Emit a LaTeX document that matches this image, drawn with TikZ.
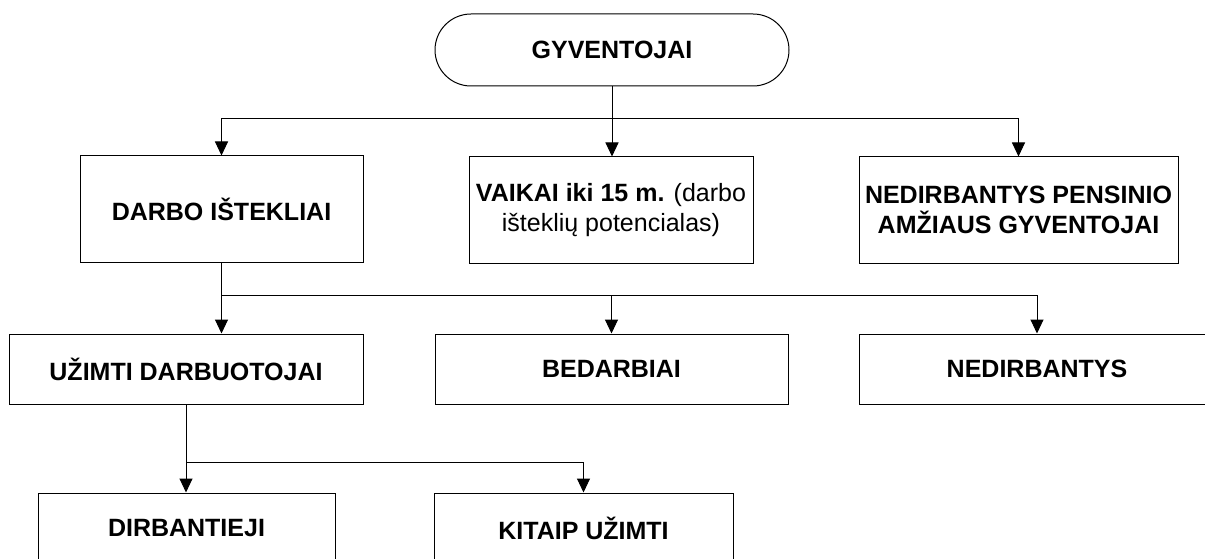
\documentclass[tikz,border=0pt]{standalone}
\usepackage{fontspec}
\setmainfont{Liberation Sans}
\usetikzlibrary{arrows.meta}
\begin{document}
\begin{tikzpicture}[x=1pt,y=-1pt,
  line width=1pt,
  txt/.style={font=\fontsize{25}{30}\selectfont, align=center},
  box/.style={txt, draw, rectangle, inner sep=0pt, font=\fontsize{25}{30}\selectfont\bfseries},
  plainbox/.style={txt, draw, rectangle, inner sep=0pt},
  term/.style={box, rounded corners=36pt},
  arr/.style={-{Triangle[length=14pt,width=13pt]}}
]
\clip (0,0) rectangle (1205,559);

% top terminator
\node[term, minimum width=354pt, minimum height=72pt] (top) at (612,50) {GYVENTOJAI};

% first level
\node[box, minimum width=283pt, minimum height=106pt] (darbo) at (221.5,209) {DARBO IŠTEKLIAI};
\node[plainbox, minimum width=284pt, minimum height=106pt] (vaikai) at (611,210)
  {\textbf{VAIKAI iki 15 m.} (darbo\\išteklių potencialas)};
\node[box, minimum width=319pt, minimum height=106pt] (pens) at (1018.5,210)
  {NEDIRBANTYS PENSINIO\\AMŽIAUS GYVENTOJAI};

% second level
\node[box, minimum width=354pt, minimum height=70pt] (uzimti) at (186,369) {UŽIMTI DARBUOTOJAI};
\node[box, minimum width=353pt, minimum height=70pt] (bedarb) at (611.5,369) {BEDARBIAI};
\node[box, minimum width=356pt, minimum height=70pt] (nedirb) at (1037,369) {NEDIRBANTYS};

% third level
\node[box, minimum width=297pt, minimum height=70pt] (dirb) at (186.5,528) {DIRBANTIEJI};
\node[box, minimum width=299pt, minimum height=70pt] (kitaip) at (583.5,528) {KITAIP UŽIMTI};

% branch points
\coordinate (j1) at (612,119);
\coordinate (j2) at (221.5,295);
\coordinate (j3) at (186,462);

% connectors
\draw (top.south) -- (j1);
\draw[arr] (j1) -| (darbo.north);
\draw[arr] (j1) -- (j1 |- vaikai.north);
\draw[arr] (j1) -| (pens.north);

\draw (darbo.south) -- (j2);
\draw[arr] (j2) -- (j2 |- uzimti.north);
\draw[arr] (j2) -| (bedarb.north);
\draw[arr] (j2) -| (nedirb.north);

\draw (uzimti.south -| j3) -- (j3);
\draw[arr] (j3) -- (j3 |- dirb.north);
\draw[arr] (j3) -| (kitaip.north);
\end{tikzpicture}
\end{document}
